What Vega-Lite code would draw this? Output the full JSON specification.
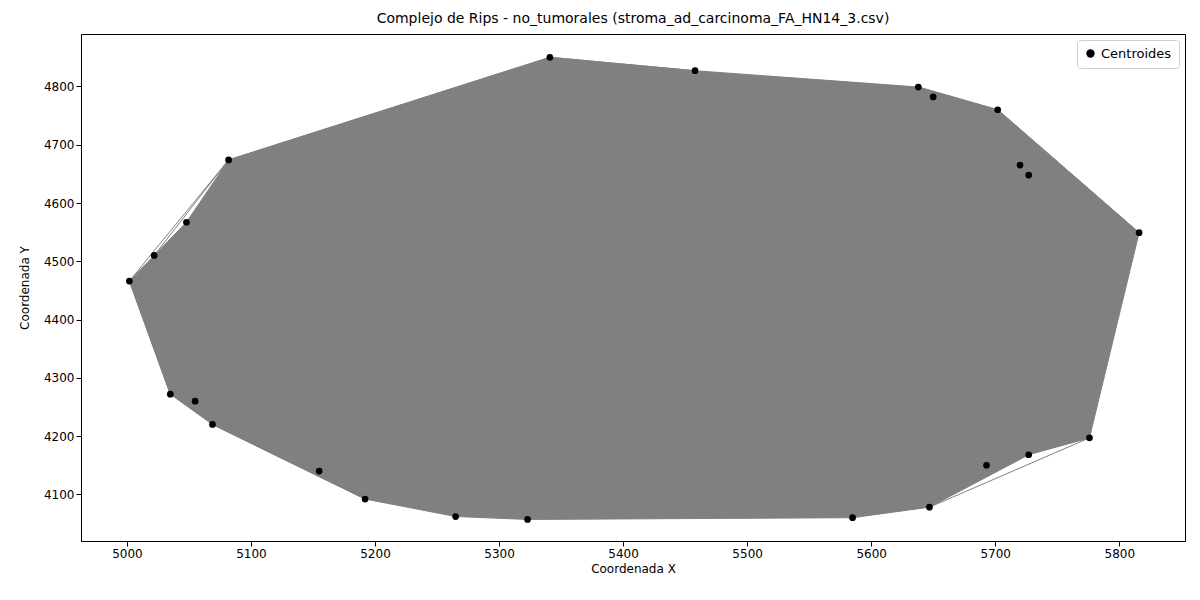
{
  "$schema": "https://vega.github.io/schema/vega-lite/v6.json",
  "width": 1104,
  "height": 507,
  "autosize": "none",
  "padding": {"left": 81, "top": 34, "right": 15, "bottom": 59},
  "background": "white",
  "title": {"text": "Complejo de Rips - no_tumorales (stroma_ad_carcinoma_FA_HN14_3.csv)", "fontSize": 14, "fontWeight": "normal", "font": "DejaVu Sans", "offset": 8},
  "config": {
    "font": "DejaVu Sans",
    "axis": {"labelFontSize": 12, "titleFontSize": 12, "titleFontWeight": "normal", "grid": false, "domainColor": "black", "tickColor": "black", "labelColor": "black", "titleColor": "black", "format": "d"},
    "view": {"stroke": "black"}
  },
  "datasets": {
    "hull": [
      {"o": 1, "x": 5002, "y": 4466}, {"o": 2, "x": 5022, "y": 4510}, {"o": 3, "x": 5048, "y": 4567},
      {"o": 4, "x": 5082, "y": 4674}, {"o": 5, "x": 5341, "y": 4850}, {"o": 6, "x": 5458, "y": 4827},
      {"o": 7, "x": 5638, "y": 4799}, {"o": 8, "x": 5702, "y": 4760}, {"o": 9, "x": 5816, "y": 4549},
      {"o": 10, "x": 5776, "y": 4197}, {"o": 11, "x": 5727, "y": 4168}, {"o": 12, "x": 5647, "y": 4078},
      {"o": 13, "x": 5585, "y": 4060}, {"o": 14, "x": 5323, "y": 4057}, {"o": 15, "x": 5265, "y": 4062},
      {"o": 16, "x": 5192, "y": 4092}, {"o": 17, "x": 5069, "y": 4220}, {"o": 18, "x": 5035, "y": 4272}
    ],
    "edges": [
      {"x": 5816, "y": 4549, "x2": 5702, "y2": 4760}, {"x": 5816, "y": 4549, "x2": 5720, "y2": 4665},
      {"x": 5816, "y": 4549, "x2": 5693, "y2": 4150}, {"x": 5816, "y": 4549, "x2": 5727, "y2": 4168},
      {"x": 5816, "y": 4549, "x2": 5647, "y2": 4078}, {"x": 5776, "y": 4197, "x2": 5647, "y2": 4078},
      {"x": 5776, "y": 4197, "x2": 5693, "y2": 4150}, {"x": 5702, "y": 4760, "x2": 5638, "y2": 4799},
      {"x": 5702, "y": 4760, "x2": 5650, "y2": 4782}, {"x": 5082, "y": 4674, "x2": 5002, "y2": 4466},
      {"x": 5082, "y": 4674, "x2": 5022, "y2": 4510}, {"x": 5002, "y": 4466, "x2": 5035, "y2": 4272},
      {"x": 5035, "y": 4272, "x2": 5155, "y2": 4140}, {"x": 5069, "y": 4220, "x2": 5192, "y2": 4092},
      {"x": 5341, "y": 4850, "x2": 5082, "y2": 4674}, {"x": 5341, "y": 4850, "x2": 5458, "y2": 4827}
    ],
    "points": [
      {"x": 5002, "y": 4466}, {"x": 5022, "y": 4510}, {"x": 5048, "y": 4567}, {"x": 5082, "y": 4674},
      {"x": 5035, "y": 4272}, {"x": 5055, "y": 4260}, {"x": 5069, "y": 4220}, {"x": 5155, "y": 4140},
      {"x": 5192, "y": 4092}, {"x": 5265, "y": 4062}, {"x": 5323, "y": 4057}, {"x": 5341, "y": 4850},
      {"x": 5458, "y": 4827}, {"x": 5585, "y": 4060}, {"x": 5638, "y": 4799}, {"x": 5647, "y": 4078},
      {"x": 5650, "y": 4782}, {"x": 5702, "y": 4760}, {"x": 5720, "y": 4665}, {"x": 5727, "y": 4648},
      {"x": 5776, "y": 4197}, {"x": 5816, "y": 4549}, {"x": 5727, "y": 4168}, {"x": 5693, "y": 4150}
    ]
  },
  "layer": [
    {
      "data": {"name": "hull"},
      "mark": {"type": "line", "interpolate": "linear-closed", "fill": "#808080", "stroke": "#808080", "strokeWidth": 1},
      "encoding": {
        "x": {"field": "x", "type": "quantitative", "scale": {"domain": [4963, 5853], "nice": false, "zero": false}, "axis": {"title": "Coordenada X", "values": [5000, 5100, 5200, 5300, 5400, 5500, 5600, 5700, 5800]}},
        "y": {"field": "y", "type": "quantitative", "scale": {"domain": [4020, 4890], "nice": false, "zero": false}, "axis": {"title": "Coordenada Y", "titlePadding": 12, "values": [4100, 4200, 4300, 4400, 4500, 4600, 4700, 4800]}},
        "order": {"field": "o"}
      }
    },
    {
      "data": {"name": "edges"},
      "mark": {"type": "rule", "color": "#808080", "strokeWidth": 1},
      "encoding": {
        "x": {"field": "x", "type": "quantitative"},
        "y": {"field": "y", "type": "quantitative"},
        "x2": {"field": "x2"},
        "y2": {"field": "y2"}
      }
    },
    {
      "data": {"name": "points"},
      "mark": {"type": "circle", "size": 45, "opacity": 1},
      "encoding": {
        "x": {"field": "x", "type": "quantitative"},
        "y": {"field": "y", "type": "quantitative"},
        "color": {"datum": "Centroides", "type": "nominal", "scale": {"range": ["black"]},
          "legend": {"title": null, "orient": "top-right", "labelFontSize": 13, "symbolType": "circle", "symbolSize": 70, "strokeColor": "#cccccc", "padding": 7, "cornerRadius": 3, "fillColor": "white", "offset": 6}}
      }
    }
  ]
}
